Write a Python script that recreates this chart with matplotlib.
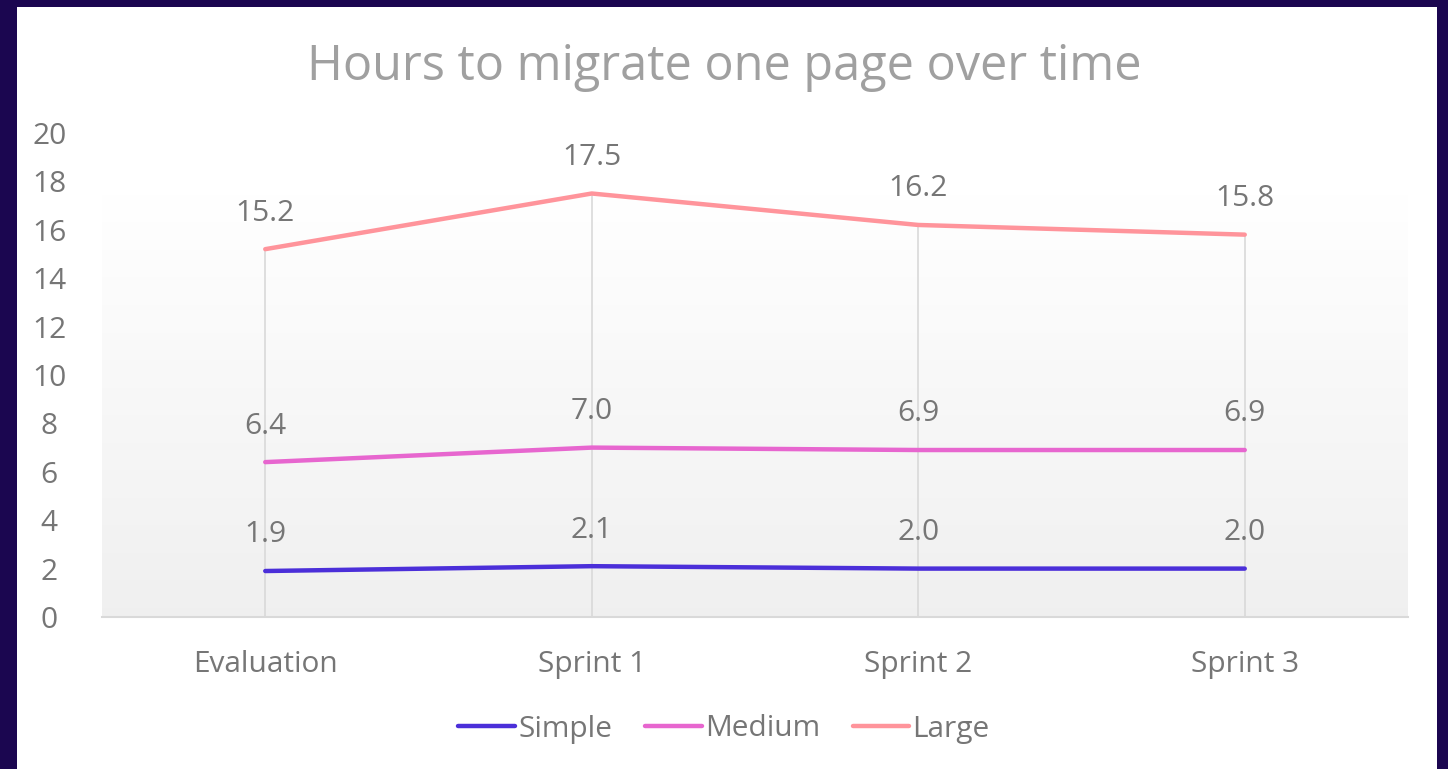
import matplotlib
matplotlib.use("Agg")
import matplotlib.pyplot as plt
from matplotlib.patches import Rectangle
import numpy as np

plt.rcParams['font.family'] = ['Open Sans', 'DejaVu Sans']

# chart data
categories = ['Evaluation', 'Sprint 1', 'Sprint 2', 'Sprint 3']
simple = [1.9, 2.1, 2.0, 2.0]
medium = [6.4, 7.0, 6.9, 6.9]
large = [15.2, 17.5, 16.2, 15.8]
series_names = ['Simple', 'Medium', 'Large']
series_colors = ['#4B2FD9', '#E766CF', '#FF949B']
yticks = [0, 2, 4, 6, 8, 10, 12, 14, 16, 18, 20]

text_grey = '#767676'

fig = plt.figure(figsize=(14.48, 7.69), dpi=100)
fig.patch.set_facecolor('#1B0650')
# white chart area inside the dark frame
fig.patches.append(Rectangle((17 / 1448, 0), (1437 - 17) / 1448, (769 - 7) / 769,
                             transform=fig.transFigure, facecolor='white',
                             edgecolor='none', zorder=0))

ax = fig.add_axes([102 / 1448, (769 - 617) / 769, (1408 - 102) / 1448, (617 - 133) / 769])
ax.set_facecolor('none')
ax.set_zorder(1)

# soft vertical gradient behind the plot
grad = np.linspace(0.94, 1.0, 256).reshape(-1, 1)
ax.imshow(np.dstack([grad, grad, grad]), extent=[0, 1, 0, 0.872], transform=ax.transAxes,
          aspect='auto', origin='lower', zorder=0)

x = np.arange(len(categories))
all_series = [simple, medium, large]

# drop lines
tops = np.max(np.array(all_series), axis=0)
ax.vlines(x, 0, tops, colors='#D9D9D9', linewidth=1.2, zorder=1)

for vals, name, col in zip(all_series, series_names, series_colors):
    ax.plot(x, vals, color=col, linewidth=3.2, label=name, solid_capstyle='round', zorder=3)
    for xi, v in zip(x, vals):
        ax.annotate(f'{v:.1f}', (xi, v), xytext=(0, 26), textcoords='offset points',
                    ha='center', va='center', fontsize=21.5, color=text_grey)

ax.set_xlim(-0.5, len(categories) - 0.5)
ax.set_ylim(0, 20)
ax.set_yticks(yticks)
ax.set_xticks(x)
ax.set_xticklabels(categories)
ax.tick_params(axis='both', length=0, labelsize=21.5, colors=text_grey)
ax.tick_params(axis='x', pad=24)
ax.tick_params(axis='y', pad=38)
for lbl in ax.get_yticklabels():
    lbl.set_horizontalalignment('center')
for side in ['top', 'right', 'left']:
    ax.spines[side].set_visible(False)
ax.spines['bottom'].set_color('#D9D9D9')
ax.spines['bottom'].set_linewidth(1.5)

fig.text(0.5, (769 - 67) / 769, 'Hours to migrate one page over time', ha='center', va='center',
         fontsize=35, color='#A0A0A0')

fig.legend(loc='center', bbox_to_anchor=(0.5, (769 - 729) / 769), ncol=3, frameon=False,
           fontsize=21.5, labelcolor=text_grey, handlelength=1.9, handletextpad=0.1,
           columnspacing=1.1)

fig.savefig('out.png', dpi=100, facecolor=fig.get_facecolor())
